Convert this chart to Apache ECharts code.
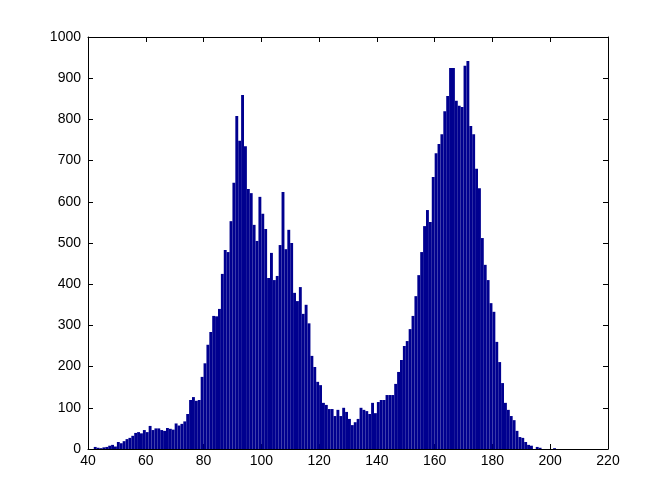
<!DOCTYPE html>
<html>
<head>
<meta charset="utf-8">
<script src="https://cdn.jsdelivr.net/npm/echarts@6/dist/echarts.min.js"></script>
<style>
html,body{margin:0;padding:0;background:#fff;}
#chart{width:672px;height:504px;}
</style>
</head>
<body>
<div id="chart"></div>
<script>
// Left edge of each unit-wide histogram bin
const binStart = [
  42,43,44,45,46,47,48,49,50,51,52,53,54,55,56,57,58,59,60,61,
  62,63,64,65,66,67,68,69,70,71,72,73,74,75,76,77,78,79,80,81,
  82,83,84,85,86,87,88,89,90,91,92,93,94,95,96,97,98,99,100,101,
  102,103,104,105,106,107,108,109,110,111,112,113,114,115,116,117,118,119,120,121,
  122,123,124,125,126,127,128,129,130,131,132,133,134,135,136,137,138,139,140,141,
  142,143,144,145,146,147,148,149,150,151,152,153,154,155,156,157,158,159,160,161,
  162,163,164,165,166,167,168,169,170,171,172,173,174,175,176,177,178,179,180,181,
  182,183,184,185,186,187,188,189,190,191,192,193,194,195,196,197,198,199,200,201
];
// Count in each bin
const counts = [
  5,3,2,4,5,8,10,6,17,14,19,24,27,32,39,41,38,46,41,56,
  46,50,50,46,44,51,49,47,62,57,61,67,85,119,126,117,119,175,208,253,
  284,323,322,340,425,483,478,553,646,808,748,859,735,631,621,544,505,612,571,534,
  415,476,410,420,495,624,485,532,500,379,359,393,328,350,305,226,199,163,155,112,
  107,97,97,80,95,80,100,90,73,58,65,73,100,95,92,85,112,87,114,119,
  119,131,131,131,158,187,216,250,262,291,323,371,422,478,541,580,551,660,718,740,
  764,820,857,925,925,845,833,830,930,942,784,764,680,633,512,447,410,354,333,260,
  211,160,112,95,80,70,44,29,27,17,10,8,0,5,3,0,0,0,0,2
];
const xTicks = [40,60,80,100,120,140,160,180,200,220];
const yTicks = [0,100,200,300,400,500,600,700,800,900,1000];

const chart = echarts.init(document.getElementById('chart'), null, {renderer:'canvas'});
const data = binStart.map((b,i)=>[b, counts[i]]);
const labelStyle = {color:'#000', fontFamily:'Liberation Sans, Arial, sans-serif', fontSize:14,
  formatter:function(v){ return String(v); }};
const lineStyle = {color:'#000', width:1};
chart.setOption({
  animation:false,
  backgroundColor:'#fff',
  grid:{left:88, right:64, top:37, bottom:55, containLabel:false},
  xAxis:[
    {type:'value', min:xTicks[0], max:xTicks[xTicks.length-1], interval:20, position:'bottom',
     axisLine:{show:true, onZero:false, lineStyle}, axisTick:{show:true, inside:true, length:5, lineStyle},
     axisLabel:Object.assign({margin:5}, labelStyle), splitLine:{show:false}},
    {type:'value', min:xTicks[0], max:xTicks[xTicks.length-1], interval:20, position:'top',
     axisLine:{show:true, onZero:false, lineStyle}, axisTick:{show:true, inside:true, length:5, lineStyle},
     axisLabel:{show:false}, splitLine:{show:false}}
  ],
  yAxis:[
    {type:'value', min:yTicks[0], max:yTicks[yTicks.length-1], interval:100, position:'left',
     axisLine:{show:true, onZero:false, lineStyle}, axisTick:{show:true, inside:true, length:5, lineStyle},
     axisLabel:Object.assign({margin:7}, labelStyle), splitLine:{show:false}},
    {type:'value', min:yTicks[0], max:yTicks[yTicks.length-1], interval:100, position:'right',
     axisLine:{show:true, onZero:false, lineStyle}, axisTick:{show:true, inside:true, length:5, lineStyle},
     axisLabel:{show:false}, splitLine:{show:false}}
  ],
  series:[{
    type:'custom',
    xAxisIndex:0, yAxisIndex:0,
    clip:true,
    data:data,
    encode:{x:0, y:1},
    renderItem:function(params, api){
      const x = api.value(0), y = api.value(1);
      const p0 = api.coord([x, 0]);
      const p1 = api.coord([x + 1, y]);
      return {type:'rect', shape:{x:p0[0], y:p1[1], width:p1[0]-p0[0], height:p0[1]-p1[1]},
              style:{fill:'#00008F', stroke:null}};
    }
  }]
});
</script>
</body>
</html>
